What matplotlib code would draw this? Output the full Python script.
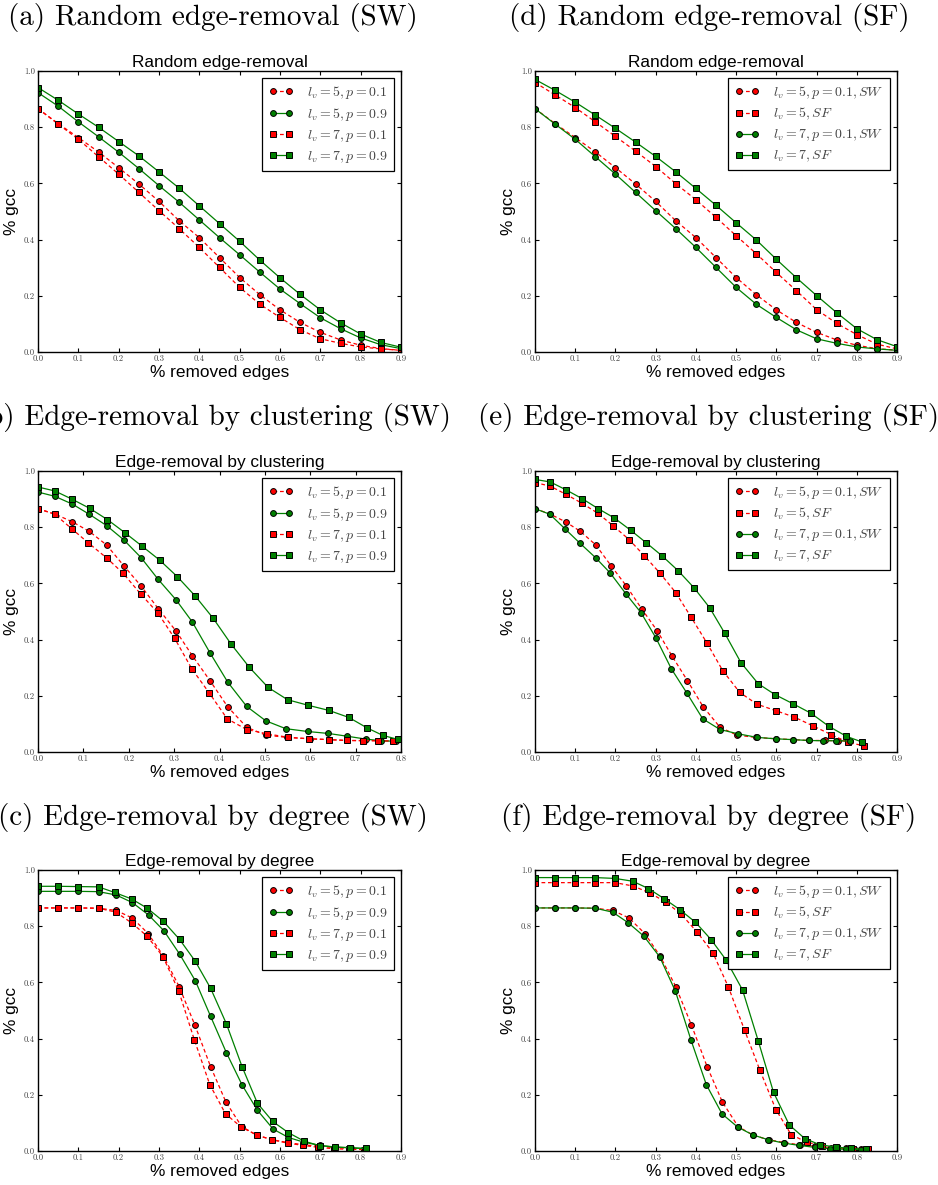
import matplotlib
matplotlib.use("Agg")
import matplotlib.pyplot as plt

plt.rcParams["mathtext.fontset"] = "cm"
plt.rcParams["font.family"] = ["Liberation Sans", "DejaVu Sans"]

# ===== DATA =====
rand_x = [0.0, 0.05, 0.1, 0.15, 0.2, 0.25, 0.3, 0.35, 0.4, 0.45,
          0.5, 0.55, 0.6, 0.65, 0.7, 0.75, 0.8, 0.85, 0.9]
rand_sw5_p01 = [0.866, 0.813, 0.763, 0.712, 0.656, 0.598, 0.536, 0.467, 0.407, 0.336,
                0.265, 0.204, 0.150, 0.105, 0.070, 0.043, 0.024, 0.012, 0.006]
rand_sw5_p09 = [0.923, 0.875, 0.819, 0.766, 0.711, 0.653, 0.592, 0.533, 0.470, 0.407,
                0.346, 0.284, 0.224, 0.172, 0.122, 0.083, 0.050, 0.026, 0.012]
rand_sw7_p01 = [0.866, 0.811, 0.757, 0.695, 0.633, 0.568, 0.503, 0.439, 0.372, 0.301,
                0.230, 0.170, 0.123, 0.079, 0.047, 0.031, 0.018, 0.011, 0.006]
rand_sw7_p09 = [0.941, 0.896, 0.847, 0.800, 0.749, 0.698, 0.641, 0.583, 0.520, 0.457,
                0.394, 0.327, 0.264, 0.205, 0.150, 0.104, 0.064, 0.034, 0.017]
rand_sf5 = [0.959, 0.915, 0.870, 0.819, 0.767, 0.715, 0.660, 0.599, 0.542, 0.479,
            0.414, 0.350, 0.283, 0.218, 0.151, 0.102, 0.062, 0.028, 0.011]
rand_sf7 = [0.970, 0.931, 0.889, 0.843, 0.796, 0.747, 0.696, 0.641, 0.582, 0.522,
            0.460, 0.399, 0.330, 0.264, 0.201, 0.140, 0.083, 0.044, 0.019]

clus_sw5_p01_x = [0.0, 0.037, 0.076, 0.113, 0.151, 0.189, 0.227, 0.265, 0.304, 0.340, 0.379,
                  0.418, 0.460, 0.502, 0.549, 0.599, 0.642, 0.680, 0.721, 0.754, 0.783]
clus_sw5_p01 = [0.866, 0.847, 0.819, 0.785, 0.737, 0.663, 0.591, 0.510, 0.431, 0.343, 0.254,
                0.161, 0.088, 0.060, 0.052, 0.047, 0.044, 0.041, 0.041, 0.040, 0.039]
clus_sw5_p09_x = [0.0, 0.037, 0.076, 0.113, 0.151, 0.189, 0.227, 0.265, 0.304, 0.340, 0.379,
                  0.418, 0.460, 0.502, 0.546, 0.594, 0.640, 0.682, 0.722, 0.756, 0.790]
clus_sw5_p09 = [0.925, 0.910, 0.882, 0.846, 0.806, 0.755, 0.692, 0.614, 0.542, 0.463, 0.353,
                0.249, 0.162, 0.111, 0.083, 0.073, 0.066, 0.056, 0.046, 0.040, 0.038]
clus_sw7_p01_x = [0.0, 0.037, 0.074, 0.111, 0.151, 0.187, 0.226, 0.264, 0.301, 0.339, 0.377,
                  0.417, 0.460, 0.504, 0.552, 0.598, 0.641, 0.681, 0.716, 0.749, 0.783]
clus_sw7_p01 = [0.866, 0.846, 0.795, 0.744, 0.691, 0.637, 0.563, 0.495, 0.405, 0.296, 0.211,
                0.118, 0.080, 0.065, 0.052, 0.047, 0.044, 0.041, 0.040, 0.040, 0.039]
clus_sw7_p09_x = [0.0, 0.037, 0.076, 0.114, 0.153, 0.191, 0.229, 0.268, 0.307, 0.346, 0.386,
                  0.426, 0.466, 0.507, 0.550, 0.596, 0.641, 0.685, 0.725, 0.760, 0.793]
clus_sw7_p09 = [0.943, 0.929, 0.899, 0.867, 0.827, 0.781, 0.733, 0.683, 0.624, 0.556, 0.476,
                0.383, 0.301, 0.230, 0.186, 0.166, 0.148, 0.123, 0.086, 0.059, 0.045]
clus_sf5_x = [0.0, 0.038, 0.077, 0.117, 0.157, 0.195, 0.234, 0.272, 0.311, 0.350, 0.388,
              0.427, 0.467, 0.509, 0.552, 0.599, 0.645, 0.691, 0.736, 0.779, 0.818]
clus_sf5 = [0.959, 0.946, 0.917, 0.885, 0.849, 0.804, 0.756, 0.698, 0.636, 0.567, 0.480,
            0.389, 0.289, 0.212, 0.170, 0.147, 0.124, 0.093, 0.062, 0.034, 0.022]
clus_sf7_x = [0.0, 0.038, 0.077, 0.118, 0.157, 0.197, 0.238, 0.277, 0.316, 0.356, 0.395,
              0.434, 0.472, 0.512, 0.555, 0.597, 0.641, 0.686, 0.731, 0.774, 0.812]
clus_sf7 = [0.970, 0.961, 0.933, 0.901, 0.866, 0.833, 0.789, 0.744, 0.698, 0.645, 0.585,
            0.514, 0.422, 0.318, 0.243, 0.204, 0.172, 0.138, 0.091, 0.056, 0.036]

deg_sw5_p01_x = [0.0, 0.05, 0.1, 0.15, 0.194, 0.234, 0.273, 0.311, 0.350, 0.389, 0.428,
                 0.466, 0.505, 0.543, 0.581, 0.620, 0.658, 0.696, 0.735, 0.773, 0.811]
deg_sw5_p01 = [0.865, 0.865, 0.865, 0.864, 0.856, 0.829, 0.774, 0.694, 0.585, 0.448, 0.300,
               0.174, 0.087, 0.056, 0.040, 0.030, 0.022, 0.017, 0.012, 0.009, 0.008]
deg_sw7_p01_x = [0.0, 0.05, 0.1, 0.15, 0.193, 0.232, 0.271, 0.310, 0.349, 0.388, 0.426,
                 0.465, 0.504, 0.542, 0.580, 0.619, 0.657, 0.695, 0.734, 0.772, 0.811]
deg_sw7_p01 = [0.865, 0.865, 0.865, 0.864, 0.850, 0.812, 0.764, 0.691, 0.569, 0.394, 0.236,
               0.132, 0.085, 0.057, 0.040, 0.028, 0.020, 0.013, 0.008, 0.006, 0.005]
deg_sw5_p09_x = [0.0, 0.05, 0.1, 0.15, 0.194, 0.234, 0.274, 0.312, 0.351, 0.390, 0.428,
                 0.467, 0.506, 0.544, 0.583, 0.621, 0.660, 0.699, 0.737, 0.775, 0.813]
deg_sw5_p09 = [0.924, 0.924, 0.924, 0.923, 0.911, 0.884, 0.840, 0.784, 0.701, 0.606, 0.479,
               0.350, 0.235, 0.145, 0.078, 0.048, 0.031, 0.020, 0.014, 0.011, 0.008]
deg_sw7_p09_x = [0.0, 0.05, 0.1, 0.15, 0.190, 0.232, 0.271, 0.311, 0.351, 0.390, 0.428,
                 0.467, 0.506, 0.544, 0.582, 0.621, 0.660, 0.698, 0.736, 0.774, 0.812]
deg_sw7_p09 = [0.942, 0.942, 0.941, 0.940, 0.920, 0.897, 0.864, 0.817, 0.753, 0.675, 0.579,
               0.453, 0.300, 0.170, 0.105, 0.065, 0.035, 0.019, 0.014, 0.012, 0.009]
deg_sf5_x = [0.0, 0.05, 0.1, 0.15, 0.199, 0.244, 0.286, 0.326, 0.364, 0.403, 0.442,
             0.481, 0.521, 0.559, 0.599, 0.637, 0.675, 0.714, 0.752, 0.790, 0.829]
deg_sf5 = [0.955, 0.955, 0.955, 0.955, 0.955, 0.943, 0.918, 0.885, 0.842, 0.779, 0.706,
           0.583, 0.430, 0.288, 0.147, 0.058, 0.032, 0.018, 0.011, 0.007, 0.006]
deg_sf7_x = [0.0, 0.05, 0.1, 0.15, 0.199, 0.243, 0.282, 0.321, 0.360, 0.399, 0.438,
             0.475, 0.516, 0.555, 0.593, 0.632, 0.671, 0.709, 0.748, 0.786, 0.824]
deg_sf7 = [0.973, 0.973, 0.973, 0.973, 0.970, 0.960, 0.934, 0.898, 0.859, 0.814, 0.752,
           0.680, 0.573, 0.392, 0.209, 0.093, 0.044, 0.022, 0.014, 0.009, 0.006]

sw_labels = [r"$l_v=5, p=0.1$", r"$l_v=5, p=0.9$", r"$l_v=7, p=0.1$", r"$l_v=7, p=0.9$"]
sf_labels = [r"$l_v=5, p=0.1, SW$", r"$l_v=5, SF$", r"$l_v=7, p=0.1, SW$", r"$l_v=7, SF$"]

sw_styles = ["r--o", "g-o", "r--s", "g-s"]
sf_styles = ["r--o", "r--s", "g-o", "g-s"]

# panel: (subtitle, axes title, series list, labels, styles, xmax)
panels = [
    ("(a) Random edge-removal (SW)", "Random edge-removal",
     [(rand_x, rand_sw5_p01), (rand_x, rand_sw5_p09), (rand_x, rand_sw7_p01), (rand_x, rand_sw7_p09)],
     sw_labels, sw_styles, 0.9),
    ("(d) Random edge-removal (SF)", "Random edge-removal",
     [(rand_x, rand_sw5_p01), (rand_x, rand_sf5), (rand_x, rand_sw7_p01), (rand_x, rand_sf7)],
     sf_labels, sf_styles, 0.9),
    ("(b) Edge-removal by clustering (SW)", "Edge-removal by clustering",
     [(clus_sw5_p01_x, clus_sw5_p01), (clus_sw5_p09_x, clus_sw5_p09),
      (clus_sw7_p01_x, clus_sw7_p01), (clus_sw7_p09_x, clus_sw7_p09)],
     sw_labels, sw_styles, 0.8),
    ("(e) Edge-removal by clustering (SF)", "Edge-removal by clustering",
     [(clus_sw5_p01_x, clus_sw5_p01), (clus_sf5_x, clus_sf5),
      (clus_sw7_p01_x, clus_sw7_p01), (clus_sf7_x, clus_sf7)],
     sf_labels, sf_styles, 0.9),
    ("(c) Edge-removal by degree (SW)", "Edge-removal by degree",
     [(deg_sw5_p01_x, deg_sw5_p01), (deg_sw5_p09_x, deg_sw5_p09),
      (deg_sw7_p01_x, deg_sw7_p01), (deg_sw7_p09_x, deg_sw7_p09)],
     sw_labels, sw_styles, 0.9),
    ("(f) Edge-removal by degree (SF)", "Edge-removal by degree",
     [(deg_sw5_p01_x, deg_sw5_p01), (deg_sf5_x, deg_sf5),
      (deg_sw7_p01_x, deg_sw7_p01), (deg_sf7_x, deg_sf7)],
     sf_labels, sf_styles, 0.9),
]

W, H = 938, 1185
fig = plt.figure(figsize=(W / 100, H / 100), dpi=100)

col_left = [38, 535]
col_width = [363, 362]
row_top = [71, 471, 870]
ax_h = 281
sub_cx = [213, 709]
sub_cy = [17.5, 417, 817]

for i, (sub, title, series, labels, styles, xmax) in enumerate(panels):
    r, c = i // 2, i % 2
    ax = fig.add_axes([col_left[c] / W, 1 - (row_top[r] + ax_h) / H,
                       col_width[c] / W, ax_h / H])
    for (xs, ys), st, lab in zip(series, styles, labels):
        ls = "--" if "--" in st else "-"
        ax.plot(xs, ys, st, label=lab, lw=0.9, ms=4.2, mec="black", mew=0.7,
                dashes=(3, 2.2) if ls == "--" else (None, None))
    ax.set_xlim(0, xmax)
    ax.set_ylim(0, 1.0)
    ax.set_xticks([t / 10 for t in range(int(round(xmax * 10)) + 1)])
    ax.set_yticks([0.0, 0.2, 0.4, 0.6, 0.8, 1.0])
    ax.xaxis.set_major_formatter(matplotlib.ticker.FormatStrFormatter("%.1f"))
    ax.yaxis.set_major_formatter(matplotlib.ticker.FormatStrFormatter("%.1f"))
    ax.tick_params(direction="in", top=True, right=True, length=3, width=0.8,
                   labelsize=6.3, pad=2, labelcolor="#444444", labelfontfamily="cmr10")
    for sp in ax.spines.values():
        sp.set_linewidth(1.0)
    ax.set_title(title, fontsize=12.4, pad=3)
    ax.set_xlabel("% removed edges", fontsize=12.4, labelpad=1)
    ax.set_ylabel("% gcc", fontsize=12.4, labelpad=4)
    leg = ax.legend(loc="upper right", numpoints=2, fontsize=10, fancybox=False,
                    framealpha=1, edgecolor="black", handlelength=1.8,
                    handletextpad=1.0, labelspacing=0.36, borderaxespad=0.5,
                    borderpad=0.45, labelcolor="#444444")
    leg.get_frame().set_linewidth(0.9)
    fig.text(sub_cx[c] / W, 1 - sub_cy[r] / H, sub, ha="center", va="center",
             fontsize=21, family="cmr10")

fig.savefig("out.png", dpi=100)
